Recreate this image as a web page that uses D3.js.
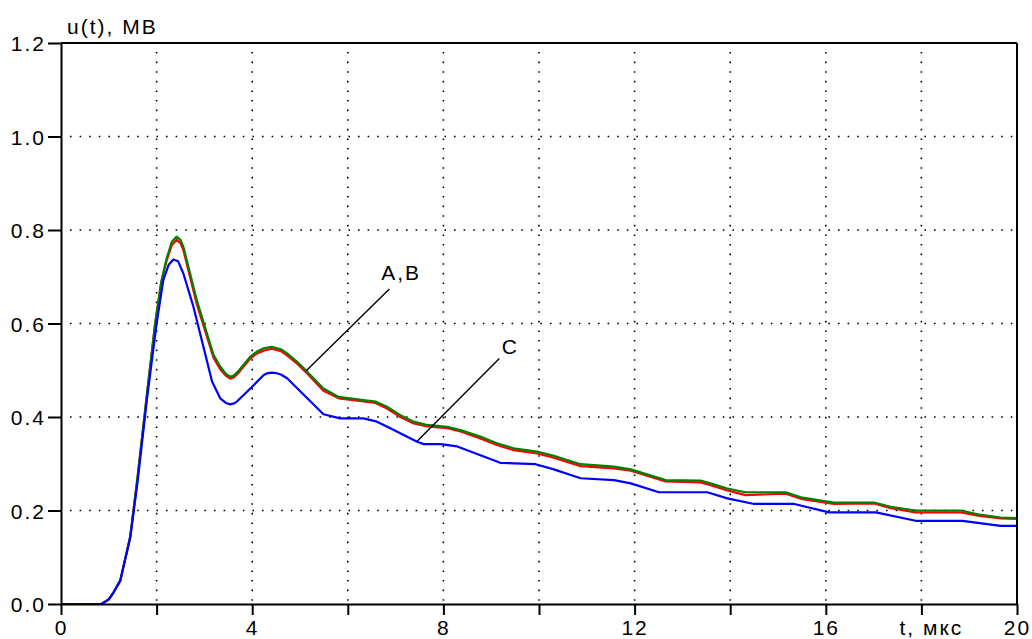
<!DOCTYPE html>
<html>
<head>
<meta charset="utf-8">
<script src="https://cdn.jsdelivr.net/npm/d3@7"></script>
<style>
  html, body { margin: 0; padding: 0; background: #fff; }
  svg { display: block; }
  text { font-family: "Liberation Sans", Arial, sans-serif; font-size: 21px; fill: #000; letter-spacing: 2px; }
</style>
</head>
<body>
<svg id="chart" width="1032" height="639"></svg>
<script>
// ---- data ----
const tA = [0,0.85,1.0,1.1,1.24,1.45,1.6,1.8,1.97,2.1,2.21,2.32,2.42,2.5,2.56,2.84,3.19,3.33,3.45,3.54,3.62,3.7,3.96,4.1,4.24,4.41,4.6,4.73,4.94,5.15,5.49,5.81,6.2,6.58,6.82,7.1,7.38,7.66,8.08,8.36,8.77,9.12,9.47,9.96,10.31,10.87,11.57,11.92,12.65,13.38,13.59,13.94,14.32,15.16,15.48,16.17,17.01,17.36,17.88,18.83,19.18,19.66,20];
const uA = [0,0,0.01,0.025,0.05,0.145,0.27,0.45,0.60,0.69,0.735,0.768,0.779,0.772,0.757,0.642,0.527,0.502,0.488,0.482,0.485,0.493,0.525,0.536,0.542,0.546,0.541,0.532,0.514,0.493,0.456,0.440,0.435,0.430,0.418,0.400,0.386,0.380,0.376,0.369,0.354,0.340,0.329,0.322,0.313,0.295,0.290,0.285,0.262,0.260,0.254,0.243,0.233,0.236,0.225,0.214,0.215,0.205,0.196,0.196,0.189,0.183,0.182];
const tB = tA;
const uB = [0,0,0.01,0.025,0.05,0.145,0.27,0.45,0.60,0.69,0.739,0.775,0.786,0.779,0.764,0.650,0.533,0.508,0.492,0.486,0.489,0.497,0.529,0.540,0.547,0.550,0.545,0.536,0.518,0.497,0.461,0.443,0.438,0.433,0.422,0.404,0.390,0.383,0.379,0.372,0.358,0.344,0.333,0.326,0.317,0.299,0.294,0.288,0.265,0.264,0.258,0.247,0.239,0.239,0.228,0.217,0.217,0.208,0.200,0.200,0.192,0.185,0.184];
const tC = [0,0.85,1.0,1.1,1.24,1.45,1.6,1.8,2.0,2.14,2.25,2.35,2.45,2.56,2.77,2.98,3.16,3.33,3.45,3.54,3.62,3.68,4.03,4.24,4.33,4.41,4.5,4.6,4.73,5.49,5.84,6.33,6.61,6.89,7.45,7.59,7.94,8.29,9.19,9.93,10.31,10.87,11.57,11.92,12.51,13.52,13.94,14.5,15.34,16.07,17.05,17.88,18.86,19.66,20];
const uC = [0,0,0.01,0.025,0.05,0.143,0.26,0.44,0.60,0.693,0.725,0.737,0.733,0.707,0.636,0.550,0.476,0.440,0.430,0.427,0.429,0.433,0.468,0.490,0.494,0.495,0.494,0.491,0.483,0.406,0.397,0.397,0.390,0.376,0.347,0.342,0.342,0.337,0.302,0.299,0.288,0.269,0.265,0.258,0.239,0.239,0.226,0.214,0.214,0.196,0.196,0.178,0.178,0.167,0.167];

const xTicks = [0,2,4,6,8,10,12,14,16,18,20];
const xTickLabels = ["0","","4","","8","","12","","16","","20"];
const yTicks = [0,0.2,0.4,0.6,0.8,1.0,1.2];
const yTickLabels = ["0.0","0.2","0.4","0.6","0.8","1.0","1.2"];
const xTitle = "t,  мкс";
const yTitle = "u(t), МВ";

// annotations
const annLabels = ["A,B", "C"];
const annLabelPos = [[6.70, 0.692], [9.22, 0.535]];
const annLines = [[[6.87, 0.674], [5.13, 0.499]], [[9.17, 0.525], [7.44, 0.347]]];

// ---- chart ----
const svg = d3.select("#chart");
const x = d3.scaleLinear().domain([0, 20]).range([61, 1017]);
const y = d3.scaleLinear().domain([0, 1.2]).range([604, 43]);

// grid
const grid = svg.append("g").attr("stroke", "#000").attr("stroke-width", 1.6).attr("stroke-dasharray", "1.6 8");
xTicks.filter(v => v > 0 && v < 20).forEach(v => {
  grid.append("line").attr("x1", x(v)).attr("x2", x(v)).attr("y1", y(1.2) + 9).attr("y2", y(0));
});
yTicks.filter(v => v > 0 && v < 1.2).forEach(v => {
  grid.append("line").attr("x1", x(0) + 9).attr("x2", x(20)).attr("y1", y(v)).attr("y2", y(v));
});

// curves
const line = d3.line().x(d => x(d[0])).y(d => y(d[1])).curve(d3.curveLinear);
const series = [
  { t: tA, u: uA, color: "#ff0000" },
  { t: tB, u: uB, color: "#008000" },
  { t: tC, u: uC, color: "#0000ff" }
];
series.forEach(s => {
  svg.append("path")
    .datum(s.t.map((t, i) => [t, s.u[i]]))
    .attr("fill", "none")
    .attr("stroke", s.color)
    .attr("stroke-width", 2.2)
    .attr("stroke-linejoin", "round")
    .attr("d", line);
});

// annotations
annLines.forEach(l => {
  svg.append("line")
    .attr("x1", x(l[0][0])).attr("y1", y(l[0][1]))
    .attr("x2", x(l[1][0])).attr("y2", y(l[1][1]))
    .attr("stroke", "#000").attr("stroke-width", 1.4);
});
annLabels.forEach((lab, i) => {
  svg.append("text").attr("x", x(annLabelPos[i][0])).attr("y", y(annLabelPos[i][1])).text(lab);
});

// axes
const xAxis = d3.axisBottom(x).tickValues(xTicks).tickSize(11).tickSizeOuter(0)
  .tickFormat((d, i) => xTickLabels[i]);
const gx = svg.append("g").attr("transform", `translate(0,${y(0)})`).call(xAxis);
gx.selectAll("path, line").attr("stroke", "#000").attr("stroke-width", 2);
gx.selectAll("text").attr("dy", null).attr("y", 31);
gx.attr("font-size", null).attr("font-family", null);

const yAxis = d3.axisLeft(y).tickValues(yTicks).tickSize(13).tickSizeOuter(0)
  .tickFormat((d, i) => yTickLabels[i]);
const gy = svg.append("g").attr("transform", `translate(${x(0)},0)`).call(yAxis);
gy.selectAll("path, line").attr("stroke", "#000").attr("stroke-width", 2);
gy.selectAll("text").attr("x", -15).attr("dy", "0.36em");
gy.attr("font-size", null).attr("font-family", null);

// frame top & right
svg.append("line").attr("x1", x(0)).attr("x2", x(20)).attr("y1", y(1.2)).attr("y2", y(1.2)).attr("stroke", "#000").attr("stroke-width", 2);
svg.append("line").attr("x1", x(20)).attr("x2", x(20)).attr("y1", y(1.2)).attr("y2", y(0)).attr("stroke", "#000").attr("stroke-width", 2);

// titles
svg.append("text").attr("x", x(18) + 10).attr("y", y(0) + 31).attr("text-anchor", "middle").text(xTitle);
svg.append("text").attr("x", x(0) + 6).attr("y", y(1.2) - 9).text(yTitle);
</script>
</body>
</html>
